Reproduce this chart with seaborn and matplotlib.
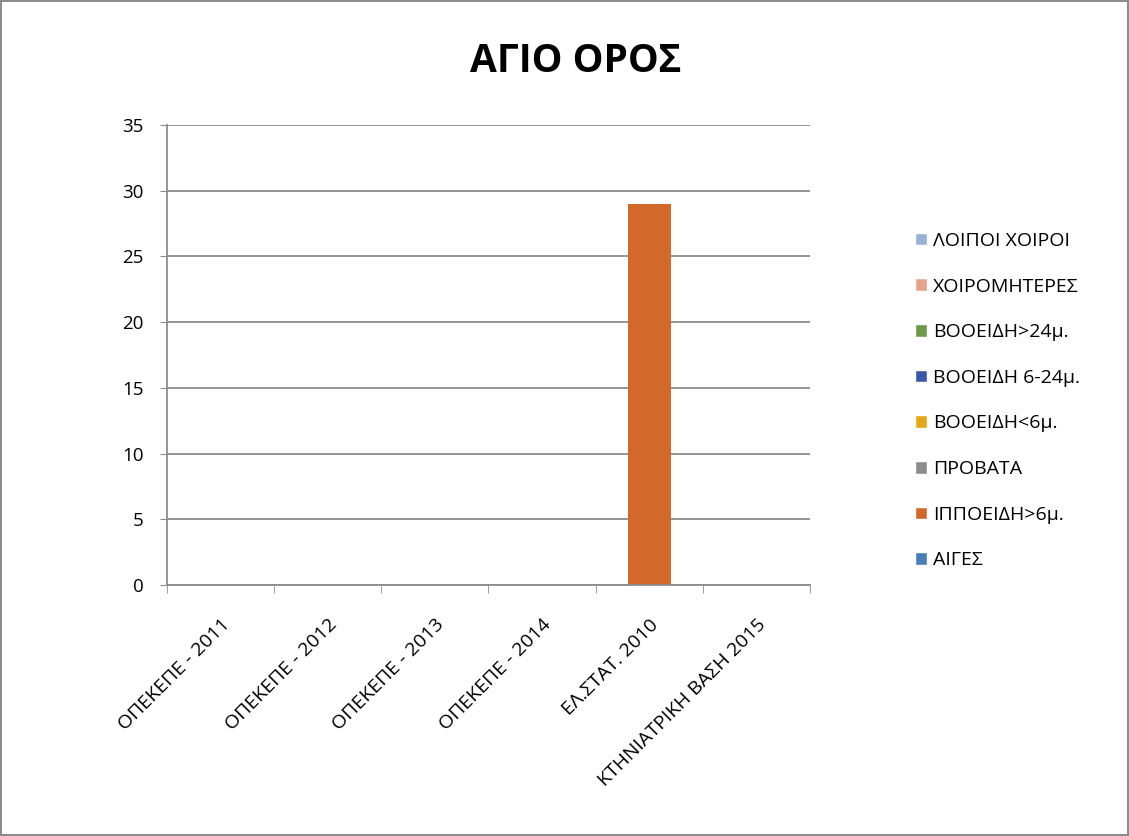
import numpy as np
import pandas as pd
import matplotlib
matplotlib.use('Agg')
import matplotlib.pyplot as plt
from matplotlib.patches import Patch
import seaborn as sns

# Data
categories = ['ΟΠΕΚΕΠΕ - 2011', 'ΟΠΕΚΕΠΕ - 2012', 'ΟΠΕΚΕΠΕ - 2013',
              'ΟΠΕΚΕΠΕ - 2014', 'ΕΛ.ΣΤΑΤ. 2010', 'ΚΤΗΝΙΑΤΡΙΚΗ ΒΑΣΗ 2015']
series = ['ΑΙΓΕΣ', 'ΙΠΠΟΕΙΔΗ>6μ.', 'ΠΡΟΒΑΤΑ', 'ΒΟΟΕΙΔΗ<6μ.',
          'ΒΟΟΕΙΔΗ 6-24μ.', 'ΒΟΟΕΙΔΗ>24μ.', 'ΧΟΙΡΟΜΗΤΕΡΕΣ', 'ΛΟΙΠΟΙ ΧΟΙΡΟΙ']
aiges = [0, 0, 0, 0, 0, 0]
ippoeidi = [0, 0, 0, 0, 29, 0]
provata = [0, 0, 0, 0, 0, 0]
booeidi_lt6 = [0, 0, 0, 0, 0, 0]
booeidi_6_24 = [0, 0, 0, 0, 0, 0]
booeidi_gt24 = [0, 0, 0, 0, 0, 0]
xoiromiteres = [0, 0, 0, 0, 0, 0]
loipoi_xoiroi = [0, 0, 0, 0, 0, 0]
values = [aiges, ippoeidi, provata, booeidi_lt6, booeidi_6_24,
          booeidi_gt24, xoiromiteres, loipoi_xoiroi]
colors = ['#4A7EBB', '#D2692A', '#8C8C8C', '#E6A817',
          '#3A56A8', '#6A9A48', '#E6A38A', '#95B3D7']

sns.set_style('white')
plt.rcParams['font.family'] = ['Open Sans', 'DejaVu Sans']
plt.rcParams['text.color'] = 'black'
plt.rcParams['xtick.color'] = 'black'
plt.rcParams['ytick.color'] = 'black'

fig = plt.figure(figsize=(11.29, 8.36), dpi=100)
fig.patch.set_edgecolor('#8c8c8c')
fig.patch.set_linewidth(1.5)
ax = fig.add_axes([0.1479, 0.3002, 0.5695, 0.5502])

# Stacked columns
bottom = np.zeros(len(categories))
for name, vals, c in zip(series, values, colors):
    sns.barplot(x=categories, y=vals, bottom=bottom, color=c, width=0.4,
                ax=ax, saturation=1, linewidth=0)
    bottom += np.array(vals)

ax.set_xlim(-0.5, len(categories) - 0.5)
ax.set_ylim(0, 35)
ax.set_yticks(range(0, 36, 5))
ax.yaxis.grid(True, color='#8c8c8c', linewidth=1.3)
ax.set_axisbelow(True)
for s in ['top', 'right']:
    ax.spines[s].set_visible(False)
for s in ['left', 'bottom']:
    ax.spines[s].set_color('#8c8c8c')
    ax.spines[s].set_linewidth(1.3)

ax.tick_params(axis='y', length=5, color='#8c8c8c', labelsize=13.5, left=True,
               pad=12, labelcolor='black')
ax.set_xticks(range(len(categories)))
ax.set_xticks(np.arange(-0.5, len(categories), 1), minor=True)
ax.tick_params(axis='x', which='major', length=0, labelsize=14, pad=22,
               labelcolor='black')
ax.tick_params(axis='x', which='minor', length=6, color='#8c8c8c', bottom=True)
ax.set_xticklabels(categories, rotation=45, ha='right', va='top',
                   rotation_mode='anchor')

fig.text(0.510, 0.926, 'ΑΓΙΟ ΟΡΟΣ', ha='center', va='center',
         fontsize=28, fontweight='bold', color='black')

handles = [Patch(facecolor=c, label=n) for n, c in zip(series, colors)][::-1]
fig.legend(handles=handles, loc='upper left', bbox_to_anchor=(0.8105, 0.7225),
           frameon=False, fontsize=14, labelspacing=1.42, handlelength=0.62,
           handleheight=0.62, handletextpad=0.3, borderpad=0, borderaxespad=0)

fig.savefig('out.png', dpi=100)
